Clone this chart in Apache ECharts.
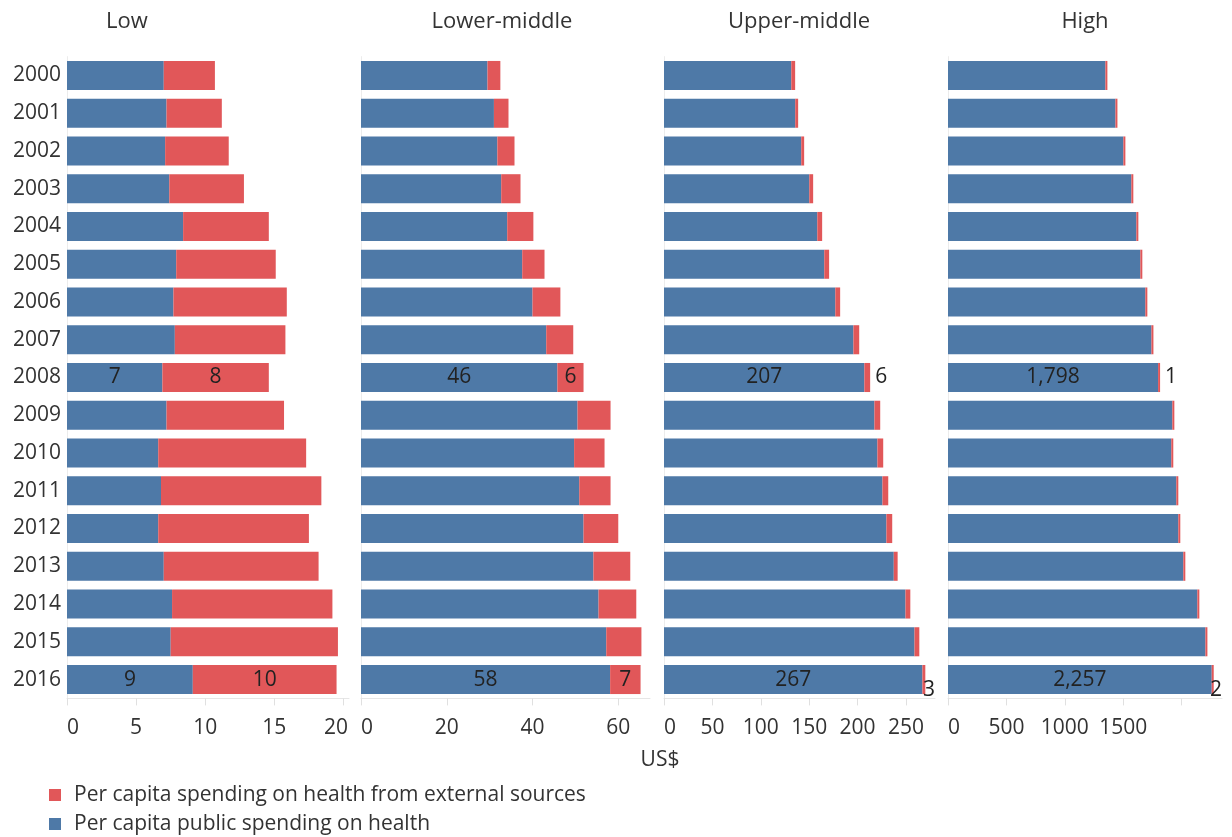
<!DOCTYPE html>
<html>
<head>
<meta charset="utf-8">
<script src="https://cdn.jsdelivr.net/npm/echarts@6/dist/echarts.min.js"></script>
<style>
html,body{margin:0;padding:0;background:#fff;}
#chart{width:1232px;height:837px;}
</style>
</head>
<body>
<div id="chart"></div>
<script>
// ---------- data ----------
const years = ['2000','2001','2002','2003','2004','2005','2006','2007','2008','2009','2010','2011','2012','2013','2014','2015','2016'];
const labelledYears = ['2008','2016'];
const panelNames = ['Low','Lower-middle','Upper-middle','High'];
const publicName = 'Per capita public spending on health';
const externalName = 'Per capita spending on health from external sources';

const lowPublic   = [7.0,7.2,7.1,7.4,8.4,7.9,7.7,7.8,6.9,7.2,6.6,6.8,6.6,7.0,7.6,7.5,9.1];
const lowExternal = [3.7,4.0,4.6,5.4,6.2,7.2,8.2,8.0,7.7,8.5,10.7,11.6,10.9,11.2,11.6,12.1,10.4];

const lowerMiddlePublic   = [29.5,31.0,31.8,32.7,34.1,37.6,40.0,43.2,45.8,50.5,49.7,50.9,51.9,54.2,55.4,57.2,58.1];
const lowerMiddleExternal = [3.0,3.4,4.0,4.5,6.1,5.2,6.5,6.3,6.1,7.7,7.1,7.3,8.1,8.6,8.8,8.2,7.1];

const upperMiddlePublic   = [131.5,135.6,141.8,150.1,158.4,165.6,177,195.7,207,217.4,220.5,225.7,229.8,237.4,249.5,258.8,267];
const upperMiddleExternal = [4,3,3,4,5,5,5,6,6,6,6,6,6,4,5,5,3];

const highPublic   = [1347,1433,1501,1569,1612,1646,1689,1741,1798,1920,1911,1954,1971,2014,2134,2203,2257];
const highExternal = [1,1,1,1,1,1,1,1,1,1,1,1,1,1,2,2,2];

// tick values per panel
const lowTicks = [0,5,10,15,20];
const lowerMiddleTicks = [0,20,40,60];
const upperMiddleTicks = [0,50,100,150,200,250];
const highTicks = [0,500,1000,1500,2000];
const highTickLabels = [0,500,1000,1500];

// ---------- layout / style ----------
const BLUE = '#4e79a7', RED = '#e15759', TXT = '#333333', FONT = '"Open Sans", sans-serif';
const FS = 21;
const gridTop = 56.6, gridHeight = 641.8;
const panels = [
  {name: panelNames[0], pub: lowPublic, ext: lowExternal, left: 67, width: 282, max: 20.4, ticks: lowTicks, labels: lowTicks, extPos: 'inside', lastShift: 15, titleX: 127},
  {name: panelNames[1], pub: lowerMiddlePublic, ext: lowerMiddleExternal, left: 361, width: 289, max: 67.4, ticks: lowerMiddleTicks, labels: lowerMiddleTicks, extPos: 'inside', lastShift: 0, titleX: 502},
  {name: panelNames[2], pub: upperMiddlePublic, ext: upperMiddleExternal, left: 664, width: 271, max: 280, ticks: upperMiddleTicks, labels: upperMiddleTicks, extPos: 'right', lastShift: 0, titleX: 799},
  {name: panelNames[3], pub: highPublic, ext: highExternal, left: 948, width: 274, max: 2345, ticks: highTicks, labels: highTickLabels, extPos: 'right', lastShift: 0, titleX: 1085}
];

const fmt = v => Math.round(v).toLocaleString('en-US');
function toItems(arr) {
  return arr.map((v, i) => labelledYears.includes(years[i]) ? {value: v, label: {show: true}} : v);
}

const grid = [], xAxis = [], yAxis = [], series = [], graphic = [];
panels.forEach((p, k) => {
  grid.push({left: p.left, top: gridTop, width: p.width, height: gridHeight, containLabel: false});
  const lastLabel = p.labels[p.labels.length - 1];
  xAxis.push({
    type: 'value', gridIndex: k, min: 0, max: p.max,
    splitLine: {show: false},
    axisLine: {show: true, lineStyle: {color: '#e6e6e6', width: 1}},
    axisTick: {show: true, length: 7, lineStyle: {color: '#e0e0e0'}, customValues: p.ticks},
    axisLabel: {show: true, customValues: p.labels, fontSize: FS, color: TXT, fontFamily: FONT, margin: 19,
      alignMinLabel: 'left',
      formatter: v => (p.lastShift && v === lastLabel) ? '{s|' + v + '}' : String(v),
      rich: {s: {fontSize: FS, color: TXT, fontFamily: FONT, padding: [0, p.lastShift || 0, 0, 0]}}
    }
  });
  yAxis.push({
    type: 'category', gridIndex: k, data: years, inverse: true,
    axisLine: {show: true, lineStyle: {color: '#ececec', width: 1}},
    axisTick: {show: false},
    axisLabel: {show: k === 0, fontSize: FS, color: TXT, fontFamily: FONT, margin: 6}
  });
  const paneRight = p.left + p.width;
  series.push({
    type: 'bar', name: publicName, stack: 's' + k, xAxisIndex: k, yAxisIndex: k,
    barWidth: '77%', itemStyle: {color: BLUE},
    label: {show: false, position: 'inside', fontSize: FS, color: '#222', fontFamily: FONT, formatter: q => fmt(q.value)},
    data: toItems(p.pub),
    animation: false
  });
  series.push({
    type: 'bar', name: externalName, stack: 's' + k, xAxisIndex: k, yAxisIndex: k,
    barWidth: '77%', barMinHeight: 2, itemStyle: {color: RED},
    label: {show: false, position: p.extPos, distance: 5, fontSize: FS, color: '#222', fontFamily: FONT, formatter: q => fmt(q.value)},
    labelLayout: function (lp) {
      const r = lp.labelRect;
      if (r.x + r.width > paneRight) return {x: paneRight - r.width, align: 'left'};
      return {};
    },
    data: toItems(p.ext),
    animation: false
  });
  graphic.push({
    type: 'text', x: p.titleX, y: 22,
    style: {text: p.name, fontSize: 22, fontFamily: FONT, fill: TXT, textAlign: 'center', textVerticalAlign: 'middle'}
  });
});
graphic.push({type: 'text', x: 660, y: 760,
  style: {text: 'US$', fontSize: FS, fontFamily: FONT, fill: TXT, textAlign: 'center', textVerticalAlign: 'middle'}});

const legendBase = {
  orient: 'vertical', left: 49, padding: 0, itemWidth: 12, itemHeight: 12, icon: 'rect', selectedMode: false,
  textStyle: {fontSize: FS, color: TXT, fontFamily: FONT, lineHeight: 24, padding: [0, 0, 0, 8]}
};

const chart = echarts.init(document.getElementById('chart'), null, {renderer: 'canvas'});
chart.setOption({
  animation: false,
  backgroundColor: '#fff',
  grid, xAxis, yAxis, series, graphic,
  legend: [
    Object.assign({}, legendBase, {top: 783, data: [externalName]}),
    Object.assign({}, legendBase, {top: 812, data: [publicName]})
  ]
});
</script>
</body>
</html>
